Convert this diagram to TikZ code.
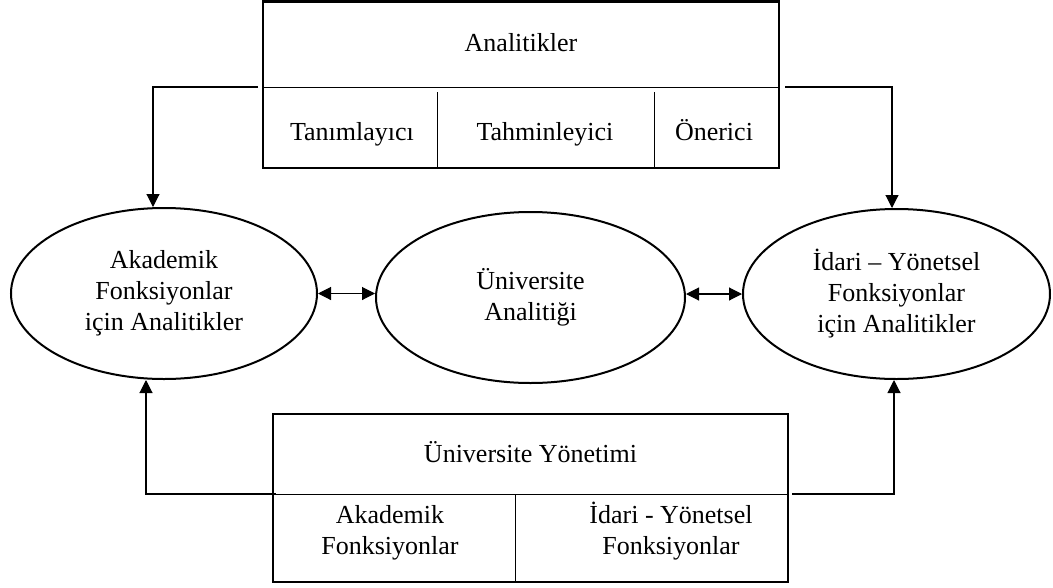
\documentclass[tikz,border=0pt]{standalone}
\usepackage{fontspec}
\setmainfont{Liberation Serif}
\usetikzlibrary{shapes.geometric,arrows.meta,calc}
\begin{document}
\begin{tikzpicture}[x=1pt,y=-1pt,
  txt/.style={font=\fontsize{26}{31}\selectfont,align=center,inner sep=0pt,anchor=base},
  frame/.style={draw,line width=2.6pt,inner sep=0pt},
  divider/.style={line width=1pt},
  oval/.style={ellipse,draw,line width=2pt,inner sep=0pt,
    font=\fontsize{26}{31}\selectfont,align=center},
  conn/.style={line width=1.1pt},
  tip/.tip={Triangle[length=13pt,width=13pt]}]
\useasboundingbox (0,0) rectangle (1053,587);

% top box: analytics and its three kinds
\node[frame,minimum width=516pt,minimum height=166.5pt] (ana) at (521,84.75) {};
\coordinate (anaDl) at (263,87);
\coordinate (anaDr) at (779,87);
\draw[divider] (anaDl) -- (anaDr);
\draw[divider] (437,92) -- (437,168);
\draw[divider] (654,92) -- (654,168);
\node[txt] (anaT) at (521,51) {Analitikler};
\node[txt] (tan) at (352,140) {Tanımlayıcı};
\node[txt] (tah) at (545,140) {Tahminleyici};
\node[txt] (one) at (714,140) {Önerici};

% the three ellipses
\node[oval,minimum width=306pt,minimum height=171pt] (acad) at (164,293.5)
  {Akademik\\Fonksiyonlar\\için Analitikler};
\node[oval,minimum width=309pt,minimum height=171pt] (uni) at (530.5,297.5)
  {Üniversite\\Analitiği};
\node[oval,minimum width=307pt,minimum height=170pt] (idr) at (896.5,294)
  {İdari – Yönetsel\\Fonksiyonlar\\için Analitikler};

% bottom box: university management
\node[frame,minimum width=515pt,minimum height=168pt] (yon) at (530.5,498) {};
\coordinate (yonDl) at (273,494);
\coordinate (yonDr) at (788,494);
\draw[divider] (yonDl) -- (yonDr);
\draw[divider] (515,494) -- (515,582);
\node[txt] (yonT) at (530.5,462) {Üniversite Yönetimi};
\node[txt] (akf) at (390,554) {Akademik\\Fonksiyonlar};
\node[txt] (idf) at (671,554) {İdari - Yönetsel\\Fonksiyonlar};

% connectors
\coordinate (aOutL) at (258,87);
\coordinate (aOutR) at (785,87);
\coordinate (yOutL) at (276,494);
\coordinate (yOutR) at (792,494);
\draw[conn,-tip] (aOutL) -| ($(acad.north)+(-11,0)$);
\draw[conn,-tip] (aOutR) -| ($(idr.north)+(-4.5,0)$);
\draw[conn,-tip] (yOutL) -| ($(acad.south)+(-18,0)$);
\draw[conn,-tip] (yOutR) -| ($(idr.south)+(-2.5,0)$);
\draw[conn,tip-tip] (acad.east) -- (acad.east -| uni.west);
\draw[conn,tip-tip] (idr.west -| uni.east) -- (idr.west);
\end{tikzpicture}
\end{document}
